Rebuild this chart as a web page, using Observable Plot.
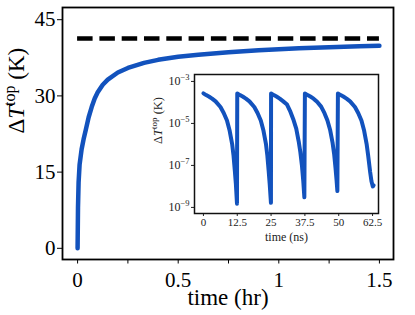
<!DOCTYPE html>
<html><head><meta charset="utf-8">
<script src="https://cdn.jsdelivr.net/npm/d3@7"></script>
<script src="https://cdn.jsdelivr.net/npm/@observablehq/plot@0.6"></script>
<style>
html,body{margin:0;padding:0;background:#fff;}
#wrap{position:relative;width:415px;height:315px;}
#inset{position:absolute;left:140px;top:66px;}
#wrap svg, #wrap svg text, #wrap svg tspan{font-family:"Liberation Serif", serif !important;font-weight:normal !important;}
</style></head><body>
<div id="wrap"><div id="main"></div><div id="inset"></div></div>
<script>
// ---- main panel data ----
const mainTimeHr = [0, 0.002, 0.005, 0.01, 0.02, 0.03, 0.04, 0.055, 0.07, 0.085, 0.1, 0.125, 0.15, 0.2, 0.25, 0.33, 0.4, 0.5, 0.6, 0.75, 0.9, 1.0, 1.1, 1.25, 1.4, 1.5];
const mainDeltaT = [0, 8, 13, 16.5, 19.5, 21.5, 23.2, 25.8, 27.8, 29.5, 30.7, 32.2, 33.2, 34.6, 35.5, 36.5, 37.1, 37.7, 38.1, 38.6, 39.0, 39.2, 39.4, 39.6, 39.75, 39.85];
const steadyDeltaT = 41.3;
const steadyRangeHr = [0, 1.5];
const mainXTicks = [0, 0.25, 0.5, 0.75, 1, 1.25, 1.5];
const mainXLabels = ["0", "", "0.5", "", "1", "", "1.5"];
const mainYTicks = [0, 15, 30, 45];
const mainYLabels = ["0", "15", "30", "45"];

// ---- inset data (log10 of ΔT in K vs time in ns) ----
const insetTimeNs = [
  0, 1, 2, 3.2, 4.5, 6.3, 7.5, 8.7, 9.7, 10.6, 11.1, 11.6, 12.0, 12.4,
  12.5, 13.5, 14.5, 15.7, 17, 18.8, 20, 21.2, 22.2, 23.1, 23.6, 24.1, 24.5, 24.95,
  25, 26, 27, 28.2, 29.5, 30.9, 32, 33.2, 34.3, 35.2, 35.8, 36.4, 36.9, 37.3,
  37.5, 38.5, 39.5, 40.7, 42, 43.5, 44.7, 45.8, 46.8, 47.7, 48.3, 48.8, 49.2, 49.5,
  49.7, 50.7, 51.7, 52.9, 54.2, 56, 57.2, 58.4, 59.4, 60.3, 60.9, 61.6, 62.1, 62.6, 62.9
];
const insetLog10DeltaT = [
  -3.57, -3.65, -3.72, -3.82, -3.95, -4.22, -4.5, -4.86, -5.35, -5.97, -6.5, -7.24, -7.9, -8.82,
  -3.57, -3.65, -3.72, -3.82, -3.95, -4.22, -4.5, -4.86, -5.35, -5.97, -6.5, -7.24, -7.9, -8.78,
  -3.57, -3.65, -3.72, -3.82, -3.95, -4.1, -4.4, -4.8, -5.25, -5.85, -6.35, -7.0, -7.75, -8.52,
  -3.57, -3.65, -3.72, -3.82, -3.97, -4.2, -4.5, -4.85, -5.3, -5.9, -6.45, -7.1, -7.7, -8.22,
  -3.57, -3.65, -3.72, -3.82, -3.95, -4.22, -4.5, -4.86, -5.35, -5.97, -6.55, -7.3, -7.75, -8.0, -7.95
];
const insetXTicks = [0, 12.5, 25, 37.5, 50, 62.5];
const insetXLabels = ["0", "12.5", "25", "37.5", "50", "62.5"];
const insetYExps = [-9, -7, -5, -3];

const blue = "#1252bd";
const font = "Liberation Serif, serif";

const mainData = mainTimeHr.map((t, i) => ({t, v: mainDeltaT[i]}));
const steadyData = [{v: steadyDeltaT, x1: steadyRangeHr[0], x2: steadyRangeHr[1]}];

const main = Plot.plot({
  width: 415, height: 315,
  marginLeft: 62, marginRight: 22, marginTop: 7, marginBottom: 56,
  style: {fontFamily: font, fontSize: "20px", background: "white", color: "black"},
  x: {domain: [-0.075, 1.57]},
  y: {domain: [-2.2, 47.4]},
  marks: [
    Plot.axisX({ticks: mainXTicks, tickFormat: d => mainXLabels[mainXTicks.indexOf(d)], tickSize: 4.5, tickPadding: 8, label: null, fontSize: 21}),
    Plot.axisY({ticks: mainYTicks, tickFormat: d => mainYLabels[mainYTicks.indexOf(d)], tickSize: 5, tickPadding: 2, label: null, fontSize: 21}),
    Plot.ruleY(steadyData, {y: "v", x1: "x1", x2: "x2", stroke: "black", strokeWidth: 4.5, strokeDasharray: "15.5,6.8"}),
    Plot.line(mainData, {x: "t", y: "v", stroke: blue, strokeWidth: 4.5}),
    Plot.frame({stroke: "black", strokeWidth: 1.8}),
    Plot.text(["time (hr)"], {frameAnchor: "bottom", dy: 45, text: d => d, fontSize: 23}),
    Plot.text(["__YLAB_MAIN__"], {frameAnchor: "left", dx: -46, rotate: -90, text: d => d, fontSize: 23})
  ]
});
document.getElementById("main").appendChild(main);

const insetData = insetTimeNs.map((t, i) => ({t, v: Math.pow(10, insetLog10DeltaT[i])}));
const inset = Plot.plot({
  width: 250, height: 184,
  marginLeft: 54, marginRight: 12, marginTop: 8, marginBottom: 37,
  style: {fontFamily: font, fontSize: "11px", background: "transparent", color: "#222"},
  x: {domain: [-3.3, 64.7]},
  y: {type: "log", domain: [Math.pow(10, -9.29), Math.pow(10, -2.67)]},
  marks: [
    Plot.frame({fill: "white"}),
    Plot.axisX({ticks: insetXTicks, tickFormat: d => insetXLabels[insetXTicks.indexOf(d)], tickSize: 3, tickPadding: 2, label: null, fontSize: 11}),
    Plot.axisY({ticks: insetYExps.map(e => Math.pow(10, e)), tickFormat: d => "__SUP__" + Math.round(Math.log10(d)), tickSize: 3, tickPadding: 2, label: null, fontSize: 12}),
    Plot.line(insetData, {x: "t", y: "v", stroke: blue, strokeWidth: 4}),
    Plot.frame({stroke: "#111", strokeWidth: 1.5}),
    Plot.text(["time (ns)"], {frameAnchor: "bottom", dy: 27, text: d => d, fontSize: 12, fill: "#222"}),
    Plot.text(["__YLAB_INSET__"], {frameAnchor: "left", dx: -37, rotate: -90, text: d => d, fontSize: 12.5, fill: "#222"})
  ]
});
document.getElementById("inset").appendChild(inset);

function rich(svg, match, partsFn) {
  d3.select(svg).selectAll("text").filter(function () { return this.textContent.startsWith(match); }).each(function () {
    const s = this.textContent;
    const el = d3.select(this);
    el.text("");
    partsFn(s).forEach(p => {
      const ts = el.append("tspan").text(p.t);
      if (p.i) ts.attr("font-style", "italic");
      if (p.size) ts.attr("font-size", p.size);
      if (p.shift) ts.attr("baseline-shift", p.shift);
    });
  });
}
rich(main, "__YLAB_MAIN__", () => [
  {t: "Δ"}, {t: "T", i: true}, {t: "top", size: 16, shift: "9px"}, {t: " (K)"}
]);
rich(inset, "__YLAB_INSET__", () => [
  {t: "Δ"}, {t: "T", i: true}, {t: "top", size: 9, shift: "5px"}, {t: " (K)"}
]);
rich(inset, "__SUP__", s => [
  {t: "10"}, {t: "−" + s.replace("__SUP__", "").replace("-", ""), size: 8.5, shift: "5px"}
]);
</script>
</body></html>
